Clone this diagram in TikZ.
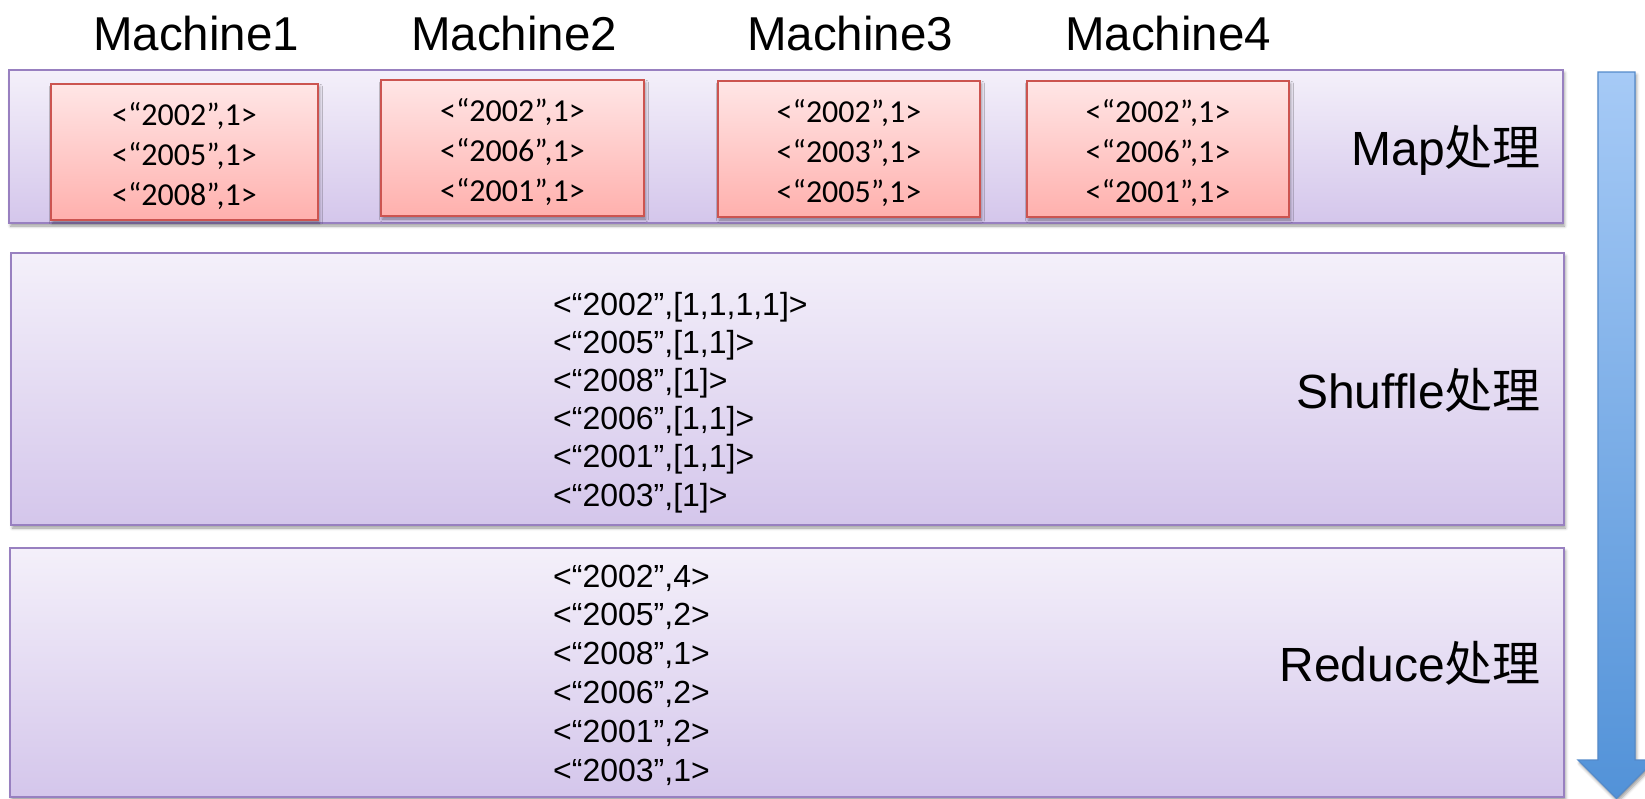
\documentclass[tikz,border=0pt]{standalone}
\usepackage{fontspec}
\setmainfont{Liberation Sans}
\newfontfamily\cjkfont{Noto Sans CJK SC}
\newfontfamily\calfont{Carlito}
\usetikzlibrary{shadows.blur}

\definecolor{panelline}{RGB}{152,128,192}
\definecolor{paneltop}{RGB}{244,240,250}
\definecolor{panelbot}{RGB}{212,198,235}
\definecolor{redline}{RGB}{204,84,80}
\definecolor{redtop}{RGB}{255,230,230}
\definecolor{redbot}{RGB}{255,176,173}
\definecolor{arrline}{RGB}{84,138,202}
\definecolor{arrtop}{RGB}{166,202,246}
\definecolor{arrbot}{RGB}{82,146,216}

\begin{document}
\begin{tikzpicture}[x=1pt,y=-1pt,
  softshadow/.style={blur shadow={shadow xshift=1.5pt, shadow yshift=-3pt,
      shadow blur radius=3pt, shadow opacity=40}},
  panel/.style={draw=panelline, line width=1.3pt, top color=paneltop,
      bottom color=panelbot, inner sep=0pt, outer sep=0pt,
      anchor=north west, softshadow},
  mapbox/.style={draw=redline, line width=1.3pt, top color=redtop,
      bottom color=redbot, inner sep=0pt, outer sep=0pt,
      minimum height=136pt, softshadow},
  boxtext/.style={align=center, inner sep=0pt,
      font=\calfont\fontsize{32}{40}\selectfont},
  machine/.style={font=\fontsize{47.5}{56}\selectfont, anchor=base, inner sep=0pt},
  stage/.style={font=\fontsize{48}{57}\selectfont, anchor=base east, inner sep=0pt},
  pair/.style={font=\fontsize{32}{38}\selectfont, anchor=base west, inner sep=0pt}]

\useasboundingbox (0,0) rectangle (1645,798);

% processing stages
\node[panel, minimum width=1554pt, minimum height=153pt] (mapstage) at (9,70) {};
\node[panel, minimum width=1553pt, minimum height=272pt] (shufstage) at (11,253) {};
\node[panel, minimum width=1554pt, minimum height=249pt] (redstage) at (10,548) {};

% machine headings
\node[machine] (lab1) at (196,50) {Machine1};
\node[machine] (lab2) at (514,50) {Machine2};
\node[machine] (lab3) at (850,50) {Machine3};
\node[machine] (lab4) at (1168,50) {Machine4};

% map output of each machine
\node[mapbox, minimum width=267pt] (m1) at (184.5,152) {};
\node[mapbox, minimum width=263pt] (m2) at (512.5,148) {};
\node[mapbox, minimum width=262pt] (m3) at (849,149) {};
\node[mapbox, minimum width=262pt] (m4) at (1158,149) {};
\node[boxtext] (m1t) at ([yshift=-4pt]m1.center) {<“2002”,1>\\<“2005”,1>\\<“2008”,1>};
\node[boxtext] (m2t) at ([yshift=-4pt]m2.center) {<“2002”,1>\\<“2006”,1>\\<“2001”,1>};
\node[boxtext] (m3t) at ([yshift=-4pt]m3.center) {<“2002”,1>\\<“2003”,1>\\<“2005”,1>};
\node[boxtext] (m4t) at ([yshift=-4pt]m4.center) {<“2002”,1>\\<“2006”,1>\\<“2001”,1>};

% stage names
\node[stage] (maplab) at (1541,165) {Map{\cjkfont 处理}};
\node[stage] (shuflab) at (1541,408) {Shuffle{\cjkfont 处理}};
\node[stage] (redlab) at (1541,681) {Reduce{\cjkfont 处理}};

% grouped pairs after shuffle
\foreach \t [count=\i] in {{<“2002”,[1,1,1,1]>},{<“2005”,[1,1]>},{<“2008”,[1]>},
    {<“2006”,[1,1]>},{<“2001”,[1,1]>},{<“2003”,[1]>}}
  \node[pair] (s\i) at (553,315+38.2*\i-38.2) {\t};

% reduced counts
\foreach \t [count=\i] in {{<“2002”,4>},{<“2005”,2>},{<“2008”,1>},
    {<“2006”,2>},{<“2001”,2>},{<“2003”,1>}}
  \node[pair] (r\i) at (553,587+38.8*\i-38.8) {\t};

% flow arrow
\draw[draw=arrline, line width=1.3pt, top color=arrtop, bottom color=arrbot, softshadow]
  (1598,72) -- (1635,72) -- (1635,760) -- (1655,760) -- (1616.5,798.5)
  -- (1578,760) -- (1598,760) -- cycle;
\end{tikzpicture}
\end{document}
